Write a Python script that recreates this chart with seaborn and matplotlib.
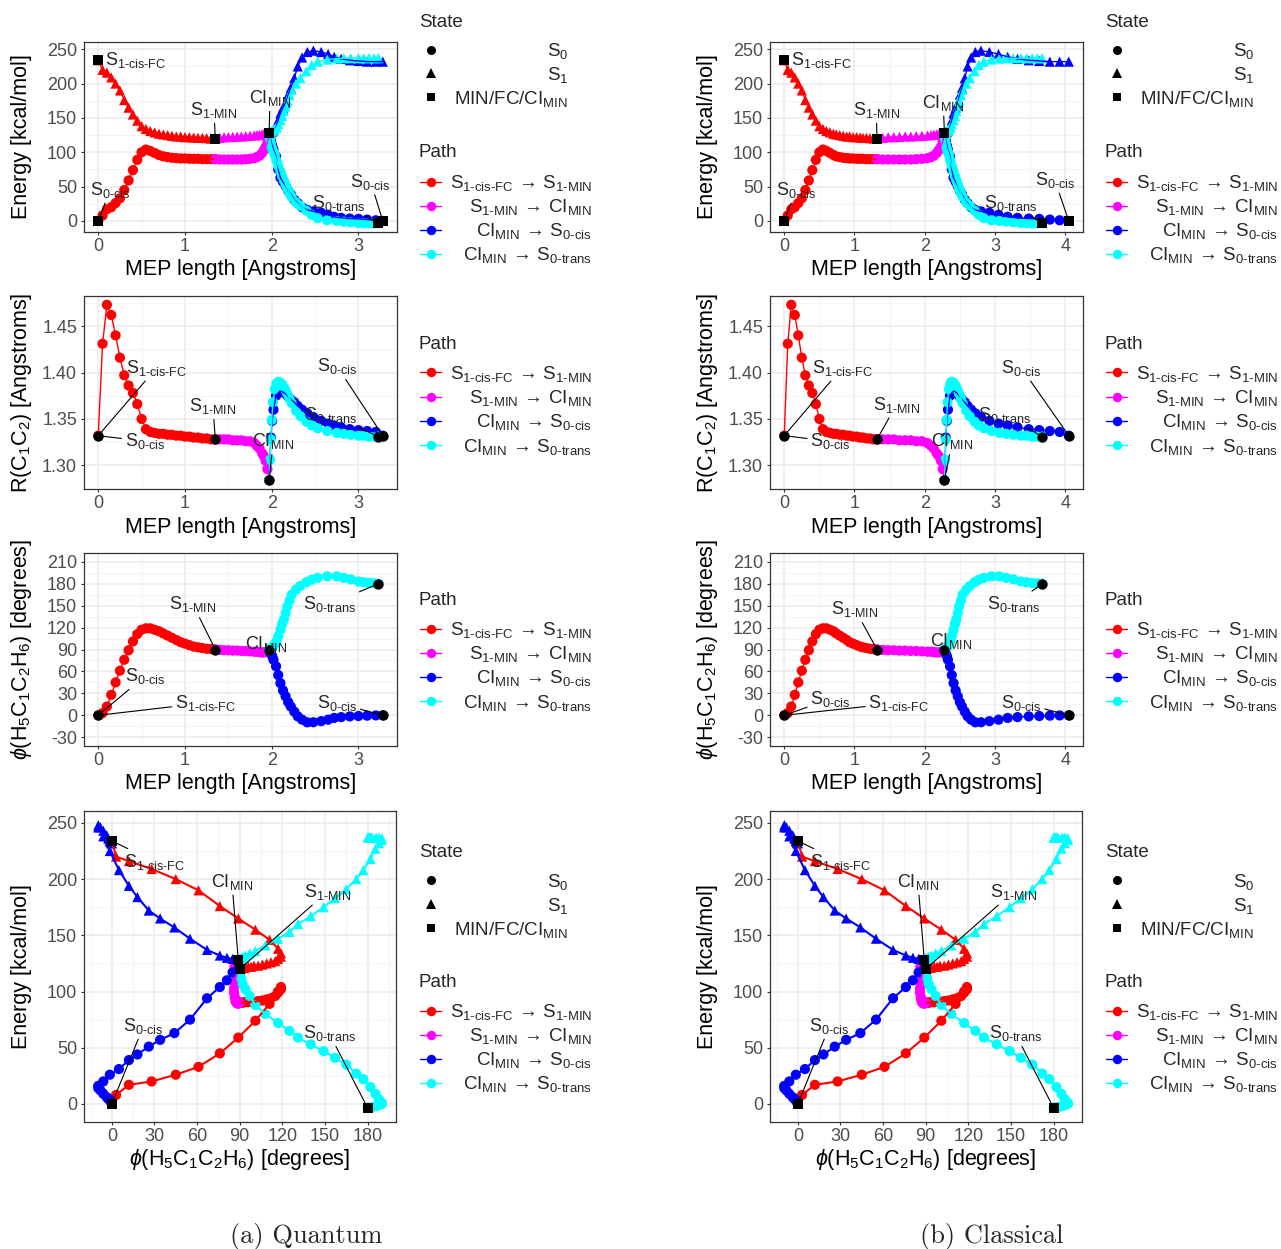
import matplotlib
matplotlib.use('Agg')
import matplotlib.pyplot as plt
import numpy as np
import pandas as pd
import seaborn as sns
from matplotlib.lines import Line2D
from matplotlib.ticker import MultipleLocator, AutoMinorLocator, FormatStrFormatter

# ------------------------------------------------------------------ data
# MEP coordinate (Angstrom) of every point, quantum (a) and classical (b)
Q_P1_S = [0.00, 0.05, 0.10, 0.15, 0.20, 0.25, 0.30, 0.35, 0.40, 0.45, 0.50, 0.55, 0.60, 0.65,
          0.70, 0.75, 0.80, 0.85, 0.90, 0.95, 1.00, 1.05, 1.10, 1.15, 1.20, 1.25, 1.30, 1.35]
C_P1_S = [0.00, 0.05, 0.10, 0.15, 0.20, 0.25, 0.30, 0.35, 0.40, 0.45, 0.50, 0.55, 0.60, 0.65,
          0.70, 0.74, 0.79, 0.84, 0.89, 0.93, 0.98, 1.03, 1.08, 1.12, 1.17, 1.22, 1.27, 1.32]
Q_P2_S = [1.35, 1.40, 1.45, 1.50, 1.55, 1.60, 1.65, 1.70, 1.75, 1.80, 1.83, 1.86, 1.89, 1.91,
          1.93, 1.95, 1.97]
C_P2_S = [1.32, 1.40, 1.48, 1.56, 1.64, 1.72, 1.80, 1.88, 1.96, 2.04, 2.09, 2.13, 2.17, 2.20,
          2.23, 2.255, 2.28]
Q_P3_S = [1.97, 1.99, 2.005, 2.02, 2.05, 2.075, 2.10, 2.13, 2.16, 2.19, 2.22, 2.26, 2.30, 2.35,
          2.41, 2.48, 2.57, 2.65, 2.72, 2.80, 2.90, 3.00, 3.10, 3.20, 3.28]
C_P3_S = [2.28, 2.30, 2.315, 2.33, 2.36, 2.385, 2.41, 2.44, 2.47, 2.50, 2.53, 2.57, 2.61, 2.66,
          2.72, 2.80, 2.92, 3.05, 3.18, 3.32, 3.48, 3.63, 3.78, 3.92, 4.05]
Q_P4_S = [1.97, 1.98, 1.99, 2.00, 2.015, 2.035, 2.055, 2.075, 2.10, 2.12, 2.14, 2.16, 2.18, 2.205,
          2.23, 2.28, 2.33, 2.40, 2.46, 2.53, 2.64, 2.75, 2.83, 2.91, 3.00, 3.06, 3.12, 3.18, 3.23]
C_P4_S = [2.28, 2.29, 2.30, 2.31, 2.325, 2.345, 2.365, 2.385, 2.41, 2.43, 2.45, 2.47, 2.49, 2.515,
          2.54, 2.59, 2.64, 2.71, 2.77, 2.84, 2.95, 3.06, 3.16, 3.26, 3.37, 3.45, 3.53, 3.60, 3.67]

# Path 1: S1-cis-FC -> S1-MIN
P1_E0 = [0, 8, 17, 20, 26, 33, 45, 59, 74, 89, 100, 104, 102, 99, 96, 94, 93, 92, 91.5, 91,
         91, 90.5, 90.5, 90.5, 90, 90, 90, 90]
P1_E1 = [234, 220, 216, 209, 200, 190, 176, 165, 155, 146, 138, 134, 131, 129, 127, 126, 125,
         124, 123, 123, 122, 122, 121.5, 121, 121, 120.5, 120, 120]
P1_R = [1.332, 1.431, 1.473, 1.462, 1.440, 1.416, 1.397, 1.386, 1.378, 1.366, 1.350, 1.339,
        1.336, 1.335, 1.334, 1.334, 1.333, 1.333, 1.332, 1.332, 1.331, 1.331, 1.330, 1.330,
        1.329, 1.329, 1.328, 1.328]
P1_PHI = [0, 3, 12, 28, 45, 61, 76, 89, 101, 111, 117, 119, 119, 117, 115, 112, 109, 106, 103,
          100, 98, 96, 94, 93, 92, 91, 90.5, 90]

# Path 2: S1-MIN -> CI-MIN
P2_E0 = [90, 89.5, 89.5, 89.5, 89.5, 89.5, 89.5, 90, 90.5, 91.5, 93, 95, 99, 103, 108, 115, 128]
P2_E1 = [120, 121, 122, 122, 122.5, 123, 123, 123.5, 124, 124.5, 125, 125.5, 126, 126.5, 127,
         127.5, 128]
P2_R = [1.328, 1.328, 1.328, 1.328, 1.327, 1.327, 1.327, 1.326, 1.326, 1.324, 1.321, 1.318,
        1.313, 1.310, 1.305, 1.296, 1.284]
P2_PHI = [90, 89.5, 89, 89, 88.5, 88.5, 88, 88, 87.5, 87, 87, 86.5, 86, 86, 86.5, 87.5, 89]

# Path 3: CI-MIN -> S0-cis
P3_E0 = [128, 117, 110, 104, 94, 75, 63, 57, 51, 44, 39, 31, 26, 20, 16, 14, 12, 9, 6, 4.5,
         3.5, 3, 2, 1, 0]
P3_E1 = [128, 129, 130, 132, 137, 147, 157, 165, 172, 184, 194, 208, 225, 238, 246, 248, 246,
         243, 239, 236, 234, 233, 232, 232, 232]
P3_R = [1.284, 1.330, 1.348, 1.360, 1.375, 1.378, 1.380, 1.379, 1.377, 1.374, 1.371, 1.368,
        1.364, 1.360, 1.356, 1.352, 1.348, 1.345, 1.343, 1.341, 1.339, 1.338, 1.337, 1.336, 1.332]
P3_PHI = [89, 85, 81, 76, 67, 55, 44, 34, 26, 18, 12, 5, -1.4, -6, -9.6, -9.5, -8, -6, -3.6,
          -2.5, -1.5, -1, -0.5, -0.2, 0]

# Path 4: CI-MIN -> S0-trans
P4_E0 = [128, 119, 112, 107, 102, 96, 88, 80, 72, 65, 59, 53, 47, 41, 35, 27, 22, 15, 9, 4, 1,
         0, -1, -2, -3, -3.3, -3.5, -3.5, -3.5]
P4_E1 = [128, 129, 130, 131, 132, 134, 136, 141, 147, 153, 160, 167, 175, 183, 191, 200, 208,
         218, 227, 232, 235, 236.5, 237, 237, 237, 237, 237, 237, 237]
P4_R = [1.284, 1.306, 1.328, 1.349, 1.368, 1.382, 1.388, 1.390, 1.389, 1.387, 1.384, 1.381,
        1.377, 1.372, 1.367, 1.359, 1.353, 1.347, 1.343, 1.340, 1.337, 1.335, 1.334, 1.333,
        1.332, 1.332, 1.331, 1.331, 1.331]
P4_PHI = [89, 90, 91, 92, 94, 97, 101, 108, 117, 125, 131, 140, 149, 157, 165, 172, 177, 182,
          185.5, 188, 190, 190, 188, 186, 183, 182, 181, 180.5, 180]

PATH_KEYS = ['p1', 'p2', 'p3', 'p4']
PATH_LABELS = [r'S$_{\text{1-cis-FC}}\,\rightarrow\,$S$_{\text{1-MIN}}$',
               r'S$_{\text{1-MIN}}\,\rightarrow\,$CI$_{\text{MIN}}$',
               r'CI$_{\text{MIN}}\,\rightarrow\,$S$_{\text{0-cis}}$',
               r'CI$_{\text{MIN}}\,\rightarrow\,$S$_{\text{0-trans}}$']
STATE_LABELS = [r'S$_0$', r'S$_1$', r'MIN/FC/CI$_{\text{MIN}}$']
LBL = {'FC': r'S$_{\text{1-cis-FC}}$', 'S1MIN': r'S$_{\text{1-MIN}}$',
       'CI': r'CI$_{\text{MIN}}$', 'S0cis': r'S$_{\text{0-cis}}$',
       'S0trans': r'S$_{\text{0-trans}}$'}

# ------------------------------------------------------------------ style
sns.set_theme(style='white')
plt.rcParams['font.family'] = ['Liberation Sans', 'DejaVu Sans']
plt.rcParams['mathtext.fontset'] = 'custom'
plt.rcParams['mathtext.rm'] = 'Liberation Sans'
plt.rcParams['mathtext.it'] = 'Liberation Sans:italic'
plt.rcParams['mathtext.bf'] = 'Liberation Sans:bold'
plt.rcParams['mathtext.sf'] = 'Liberation Sans'
plt.rcParams['axes.unicode_minus'] = False

PAL = {'p1': '#FF0000', 'p2': '#FF00FF', 'p3': '#0000FF', 'p4': '#00FFFF'}
STATE_MK = {'S0': 'o', 'S1': '^'}
TICK_FS, LAB_FS, LEG_FS, ANN_FS = 13, 15.5, 13.5, 13
MS, KMS_SQ, KMS_CI = 54, 46, 56

W, H = 1281, 1249
fig = plt.figure(figsize=(W / 100, H / 100), dpi=100)
fig.patch.set_facecolor('white')

PANEL_Y = [(42, 232), (296, 489), (553, 746), (811, 1122)]
PANEL_X = [(84, 397), (84, 397), (84, 397), (84, 396)]
COL_OFF = [0, 686]


def add_ax(xoff, i):
    (x0, x1), (y0, y1) = PANEL_X[i], PANEL_Y[i]
    ax = fig.add_axes([(x0 + xoff) / W, 1 - y1 / H, (x1 - x0) / W, (y1 - y0) / H])
    return ax, (x1 - x0), (y1 - y0)


def expand(vals, f=0.05):
    lo, hi = float(np.min(vals)), float(np.max(vals))
    d = (hi - lo) * f
    return lo - d, hi + d


def style_ax(ax, w, h, xlim, ylim, xstep, ystep, xlabel, ylabel, yfmt=None):
    ax.set_xlim(*xlim)
    ax.set_ylim(*ylim)
    ax.xaxis.set_major_locator(MultipleLocator(xstep))
    ax.yaxis.set_major_locator(MultipleLocator(ystep))
    ax.xaxis.set_minor_locator(AutoMinorLocator(2))
    ax.yaxis.set_minor_locator(AutoMinorLocator(2))
    if yfmt:
        ax.yaxis.set_major_formatter(FormatStrFormatter(yfmt))
    ax.set_facecolor('white')
    ax.grid(True, which='major', color='#EBEBEB', lw=1.1)
    ax.grid(True, which='minor', color='#F2F2F2', lw=0.6)
    ax.set_axisbelow(True)
    for sp in ax.spines.values():
        sp.set_visible(True)
        sp.set_color('#333333')
        sp.set_linewidth(0.9)
    ax.tick_params(which='major', length=2.5, width=0.8, color='#333333',
                   labelsize=TICK_FS, labelcolor='#4D4D4D', bottom=True, left=True)
    ax.tick_params(axis='x', pad=1.5)
    ax.tick_params(axis='y', pad=2.5)
    ax.tick_params(which='minor', length=0)
    ax.set_xlabel(xlabel, fontsize=LAB_FS, color='black', va='center')
    ax.set_ylabel(ylabel, fontsize=LAB_FS, color='black', va='center')
    ax.xaxis.set_label_coords(0.5, -38 / h)
    ax.yaxis.set_label_coords(-62 / w, 0.5)


def make_df(svals):
    frames = []
    for key, s, e0, e1, r, phi in zip(PATH_KEYS, svals,
                                      [P1_E0, P2_E0, P3_E0, P4_E0], [P1_E1, P2_E1, P3_E1, P4_E1],
                                      [P1_R, P2_R, P3_R, P4_R], [P1_PHI, P2_PHI, P3_PHI, P4_PHI]):
        for st, e in (('S0', e0), ('S1', e1)):
            frames.append(pd.DataFrame({'path': key, 'state': st, 's': s, 'E': e, 'R': r,
                                        'phi': phi, 'grp': key + st}))
    return pd.concat(frames, ignore_index=True)


def key_points(svals):
    s1, s2, s3, s4 = svals
    return pd.DataFrame({
        'name': ['FC', 'S0cis0', 'S1MIN', 'CI', 'S0trans', 'S0cis1'],
        's': [s1[0], s1[0], s1[-1], s2[-1], s4[-1], s3[-1]],
        'E': [P1_E1[0], P1_E0[0], P1_E1[-1], P2_E1[-1], P4_E0[-1], P3_E0[-1]],
        'R': [P1_R[0], P1_R[0], P1_R[-1], P2_R[-1], P4_R[-1], P3_R[-1]],
        'phi': [P1_PHI[0], P1_PHI[0], P1_PHI[-1], P2_PHI[-1], P4_PHI[-1], P3_PHI[-1]],
    })


def annotate(ax, notes, kp, xcol, ycol):
    for lab, key, (tx, ty), seg in notes:
        row = kp[kp.name == key].iloc[0]
        if seg:
            ax.annotate(LBL[lab], xy=(row[xcol], row[ycol]), xytext=(tx, ty), textcoords='data',
                        ha='center', va='center', fontsize=ANN_FS, zorder=6,
                        arrowprops=dict(arrowstyle='-', color='black', lw=0.8,
                                        shrinkA=0, shrinkB=2))
        else:
            ax.text(tx, ty, LBL[lab], ha='center', va='center', fontsize=ANN_FS, zorder=6)


def draw_data(ax, df, x, y, lw):
    sns.scatterplot(data=df, x=x, y=y, hue='path', style='state', hue_order=PATH_KEYS,
                    palette=PAL, markers=STATE_MK, s=MS, linewidth=0, legend=False,
                    ax=ax, zorder=2)
    sns.lineplot(data=df, x=x, y=y, hue='path', units='grp', estimator=None, sort=False,
                 hue_order=PATH_KEYS, palette=PAL, lw=lw, legend=False, ax=ax, zorder=3)


# annotation layout (text centres, data units)
NOTES = {
    'q1': [('FC', 'FC', (0.43, 234.2), False), ('S1MIN', 'S1MIN', (1.333, 161.6), True),
           ('CI', 'CI', (1.98, 179), True), ('S0cis', 'S0cis0', (0.138, 45.4), True),
           ('S0trans', 'S0trans', (2.775, 26.3), True), ('S0cis', 'S0cis1', (3.14, 57.4), True)],
    'q2': [('FC', 'S0cis0', (0.673, 1.4051), True), ('S0cis', 'S0cis0', (0.538, 1.3259), True),
           ('S1MIN', 'S1MIN', (1.322, 1.3637), True), ('CI', 'CI', (2.018, 1.3259), True),
           ('S0trans', 'S0trans', (2.683, 1.3547), True), ('S0cis', 'S0cis1', (2.752, 1.4068), True)],
    'q3': [('S1MIN', 'S1MIN', (1.091, 151.7), True), ('S0trans', 'S0trans', (2.668, 151.7), True),
           ('CI', 'CI', (1.937, 96.9), False), ('S0cis', 'S0cis0', (0.538, 53.5), True),
           ('FC', 'S0cis0', (1.238, 17), True), ('S0cis', 'S0cis1', (2.752, 17), True)],
    'c1': [('FC', 'FC', (0.527, 234.2), False), ('S1MIN', 'S1MIN', (1.31, 161.6), True),
           ('CI', 'CI', (2.263, 172), True), ('S0cis', 'S0cis0', (0.17, 45.4), True),
           ('S0trans', 'S0trans', (3.22, 26.3), True), ('S0cis', 'S0cis1', (3.85, 59.8), True)],
    'c2': [('FC', 'S0cis0', (0.825, 1.4051), True), ('S0cis', 'S0cis0', (0.659, 1.3259), True),
           ('S1MIN', 'S1MIN', (1.598, 1.3655), True), ('CI', 'CI', (2.39, 1.3259), True),
           ('S0trans', 'S0trans', (3.13, 1.3547), True), ('S0cis', 'S0cis1', (3.375, 1.4051), True)],
    'c3': [('S1MIN', 'S1MIN', (1.008, 144.9), True), ('S0trans', 'S0trans', (3.27, 151.7), True),
           ('CI', 'CI', (2.376, 101.4), False), ('S0cis', 'S0cis0', (0.66, 22.4), True),
           ('FC', 'S0cis0', (1.635, 17), True), ('S0cis', 'S0cis1', (3.375, 17), True)],
    'p4': [('FC', 'FC', (30.4, 215.3), True), ('CI', 'CI', (84.5, 197.6), True),
           ('S1MIN', 'S1MIN', (151.7, 188.7), True), ('S0cis', 'S0cis0', (22.4, 69.5), True),
           ('S0trans', 'S0trans', (152.9, 63), True)],
}

PHI_LIMITS = (-30, 210)
XL_S = 'MEP length [Angstroms]'
YL_E = 'Energy [kcal/mol]'
YL_R = r'R(C$_1$C$_2$) [Angstroms]'
YL_PHI = r'$\phi$(H$_5$C$_1$C$_2$H$_6$) [degrees]'


def draw_column(xoff, svals, tag):
    df = make_df(svals)
    kp = key_points(svals)
    s0 = df[df.state == 'S0']
    allE = np.concatenate([df.E.values, kp.E.values])

    # energy vs MEP
    ax, w, h = add_ax(xoff, 0)
    draw_data(ax, df, 's', 'E', 1.0)
    sns.scatterplot(data=kp, x='s', y='E', color='black', marker='s', s=KMS_SQ, linewidth=0,
                    legend=False, ax=ax, zorder=4)
    style_ax(ax, w, h, expand(df.s), expand(allE), 1, 50, XL_S, YL_E)
    annotate(ax, NOTES[tag + '1'], kp, 's', 'E')

    # bond length vs MEP
    ax, w, h = add_ax(xoff, 1)
    draw_data(ax, s0, 's', 'R', 1.0)
    sns.scatterplot(data=kp[kp.name != 'FC'], x='s', y='R', color='black', marker='o', s=KMS_CI,
                    linewidth=0, legend=False, ax=ax, zorder=4)
    style_ax(ax, w, h, expand(df.s), expand(s0.R), 1, 0.05, XL_S, YL_R, '%.2f')
    annotate(ax, NOTES[tag + '2'], kp, 's', 'R')

    # dihedral vs MEP
    ax, w, h = add_ax(xoff, 2)
    draw_data(ax, s0, 's', 'phi', 1.0)
    sns.scatterplot(data=kp[kp.name != 'FC'], x='s', y='phi', color='black', marker='o',
                    s=KMS_CI, linewidth=0, legend=False, ax=ax, zorder=4)
    style_ax(ax, w, h, expand(df.s), expand(PHI_LIMITS), 1, 30, XL_S, YL_PHI)
    annotate(ax, NOTES[tag + '3'], kp, 's', 'phi')

    # energy vs dihedral
    ax, w, h = add_ax(xoff, 3)
    draw_data(ax, df, 'phi', 'E', 1.5)
    sns.scatterplot(data=kp, x='phi', y='E', color='black', marker='s', s=KMS_SQ, linewidth=0,
                    legend=False, ax=ax, zorder=4)
    style_ax(ax, w, h, expand(df.phi), expand(allE), 30, 50, YL_PHI, YL_E)
    annotate(ax, NOTES['p4'], kp, 'phi', 'E')


draw_column(COL_OFF[0], [Q_P1_S, Q_P2_S, Q_P3_S, Q_P4_S], 'q')
draw_column(COL_OFF[1], [C_P1_S, C_P2_S, C_P3_S, C_P4_S], 'c')

# ------------------------------------------------------------------ legends (figure pixels)
BL = 6.7


def ftext(x, y, s, **kw):
    fig.text(x / W, 1 - y / H, s, **kw)


def fmark(x, y, **kw):
    fig.add_artist(Line2D([x / W], [1 - y / H], transform=fig.transFigure, linestyle='none', **kw))


def fline(x0, x1, y, **kw):
    fig.add_artist(Line2D([x0 / W, x1 / W], [1 - y / H, 1 - y / H], transform=fig.transFigure, **kw))


STATE_SYMS = [('o', 6.5), ('^', 7.5), ('s', 5.2)]


def state_legend(xoff, ytitle, rows):
    ftext(419 + xoff, ytitle + BL, 'State', ha='left', va='baseline', fontsize=LEG_FS)
    for (mk, ms), lab, y in zip(STATE_SYMS, STATE_LABELS, rows):
        fmark(430.5 + xoff, y, marker=mk, ms=ms, color='black', mew=0)
        ftext(568 + xoff, y + BL, lab, ha='right', va='baseline', fontsize=LEG_FS)


def path_legend(xoff, ytitle, rows):
    ftext(419 + xoff, ytitle + BL, 'Path', ha='left', va='baseline', fontsize=LEG_FS)
    for key, lab, y in zip(PATH_KEYS, PATH_LABELS, rows):
        fline(420 + xoff, 441 + xoff, y, color=PAL[key], lw=1.0)
        fmark(430.5 + xoff, y, marker='o', ms=6.8, color=PAL[key], mew=0)
        ftext(592 + xoff, y + BL, lab, ha='right', va='baseline', fontsize=LEG_FS)


for xo in COL_OFF:
    state_legend(xo, 20, [49.5, 73, 97])
    path_legend(xo, 150.5, [181.5, 205.5, 229.5, 253.5])
    path_legend(xo, 342, [372, 396.5, 420.5, 445])
    path_legend(xo, 598.5, [628.5, 652.5, 676.5, 701])
    state_legend(xo, 850, [880, 904, 928])
    path_legend(xo, 980.5, [1010.5, 1034.5, 1058.5, 1082.5])

# captions
ftext(306, 1237, '(a) Quantum', ha='center', va='center', fontsize=19, family='cmr10')
ftext(992, 1237, '(b) Classical', ha='center', va='center', fontsize=19, family='cmr10')

fig.savefig('out.png', dpi=100, facecolor='white')
